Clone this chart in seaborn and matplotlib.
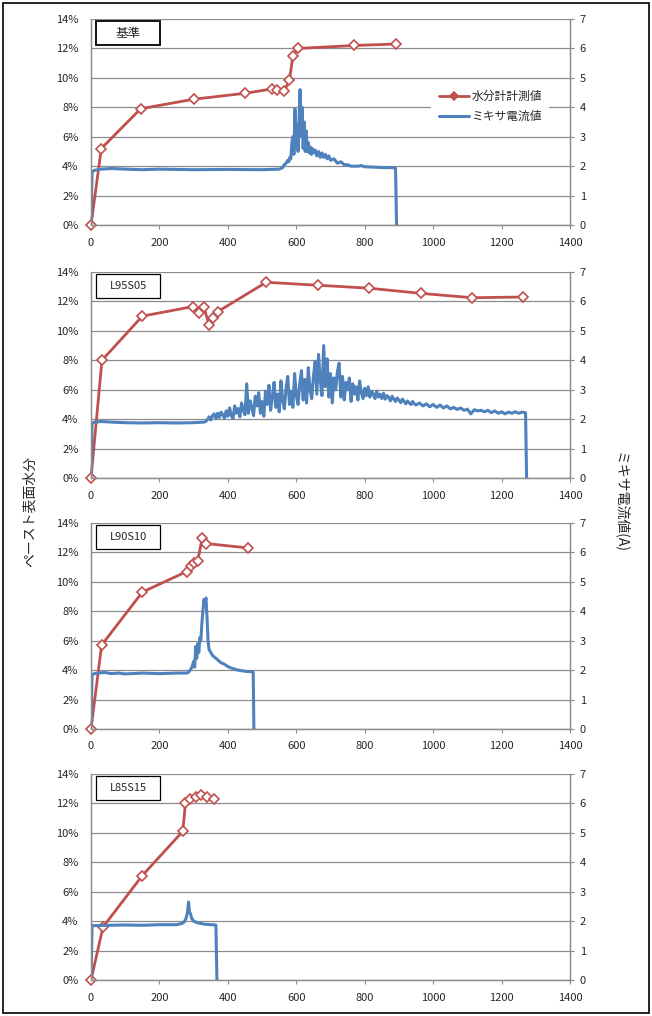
import numpy as np
import pandas as pd
import matplotlib
matplotlib.use("Agg")
import matplotlib.pyplot as plt
import seaborn as sns
from matplotlib.patches import Rectangle
from matplotlib.ticker import FuncFormatter

sns.set_style("white")
plt.rcParams['font.family'] = ['Noto Sans CJK JP', 'DejaVu Sans']

# %%
# panel names
panels = ['基準', 'L95S05', 'L90S10', 'L85S15']

# moisture meter readings (time [s], %)
moist_t_base = [0, 30, 145, 300, 450, 530, 545, 565, 580, 590, 605, 770, 890]
moist_v_base = [0, 5.2, 7.9, 8.55, 8.95, 9.25, 9.2, 9.1, 9.85, 11.5, 12.0, 12.2, 12.3]

moist_t_l95 = [0, 32, 150, 298, 315, 330, 345, 357, 370, 512, 662, 812, 963, 1114, 1262]
moist_v_l95 = [0, 8.0, 11.0, 11.65, 11.2, 11.6, 10.4, 10.9, 11.3, 13.3, 13.1, 12.9, 12.55, 12.25, 12.3]

moist_t_l90 = [0, 31, 150, 280, 292, 300, 312, 325, 336, 460]
moist_v_l90 = [0, 5.7, 9.3, 10.7, 11.1, 11.3, 11.4, 13.0, 12.6, 12.3]

moist_t_l85 = [0, 35, 150, 268, 276, 290, 306, 322, 340, 360]
moist_v_l85 = [0, 3.6, 7.1, 10.1, 12.0, 12.3, 12.45, 12.55, 12.45, 12.3]

# mixer current (time [s], A)
cur_t_base = [0, 3, 10, 30, 60, 100, 150, 200, 300, 400, 500, 550, 560,
              565, 570, 575, 578, 581, 584, 587, 590, 593, 596, 599, 602, 605,
              608, 611, 614, 617, 620, 623, 626, 629, 632, 635, 638, 641, 644,
              647, 650, 655, 660, 665, 670, 675, 680, 685, 690, 695, 700, 710,
              720, 730, 740, 750, 760, 770, 780, 790, 800, 820, 840, 860, 880,
              890, 893]
cur_v_base = [0, 1.8, 1.86, 1.9, 1.92, 1.9, 1.88, 1.9, 1.88, 1.89, 1.88, 1.9, 1.95,
              2.05, 2.1, 2.2, 2.15, 2.3, 2.25, 2.8, 3.0, 2.4, 3.95, 2.6, 3.4, 2.5,
              3.6, 4.6, 3.0, 4.0, 2.6, 3.5, 2.5, 3.2, 2.5, 2.8, 2.45, 2.65, 2.4,
              2.6, 2.45, 2.55, 2.35, 2.5, 2.3, 2.45, 2.3, 2.4, 2.25, 2.35, 2.2, 2.25,
              2.1, 2.15, 2.05, 2.05, 2.0, 2.0, 2.0, 2.02, 1.98, 1.97, 1.96, 1.95, 1.95,
              1.93, 0]

cur_t_l95_flat = [0, 3, 10, 30, 60, 100, 150, 200, 250, 300, 330]
cur_v_l95_flat = [0, 1.85, 1.9, 1.92, 1.9, 1.88, 1.87, 1.88, 1.87, 1.88, 1.9]
cur_v_l95_noisy = [  # every 5 s from 335 to 950
    1.92, 1.98, 2.08, 1.97, 2.12, 2.18, 2.02, 2.2, 2.06, 2.24, 2.15, 2.03, 2.28, 2.1,
    2.38, 2.12, 2.02, 2.45, 2.2, 2.36, 2.08, 2.55, 2.3, 2.15, 3.2, 2.2, 2.62, 2.4,
    2.12, 2.78, 2.45, 2.9, 2.2, 2.6,
    2.1, 2.95, 2.5, 3.15, 2.3, 2.75, 3.25, 2.4, 2.85, 2.25,
    3.3, 2.65, 2.35, 3.05, 3.45, 2.5, 2.95, 2.4, 3.55, 2.8, 2.5, 3.2, 3.65, 2.65,
    3.35, 2.55, 3.75, 3.0, 2.7, 3.45,
    3.95, 2.85, 4.2, 3.3, 2.8, 4.5, 3.1, 4.05, 2.75, 3.55,
    2.55, 3.4, 3.0, 3.6, 3.9, 2.75, 3.45, 2.65, 3.25, 3.0, 3.4, 2.6,
    3.2, 2.85, 3.1, 2.65, 3.3, 2.9, 2.7, 3.05, 2.8, 3.1, 2.75, 2.95, 2.85, 2.7,
    2.95, 2.75, 2.85, 2.7,
    2.88, 2.68, 2.8, 2.74, 2.62, 2.78, 2.68, 2.6, 2.72, 2.64, 2.56, 2.68, 2.6,
    2.52, 2.62, 2.55, 2.5, 2.6, 2.52, 2.48]
cur_v_l95_tail = [  # every 10 s from 960 to 1270
    2.55, 2.45, 2.52, 2.42, 2.5, 2.4, 2.48, 2.38, 2.45, 2.35, 2.4, 2.33, 2.38,
    2.3, 2.34, 2.18, 2.32, 2.28, 2.3, 2.25, 2.3, 2.22, 2.28, 2.2, 2.25, 2.18,
    2.24, 2.2, 2.25, 2.2, 2.24, 2.22]
cur_t_l95 = (cur_t_l95_flat + list(range(335, 951, 5))
             + list(range(960, 1271, 10)) + [1273])
cur_v_l95 = cur_v_l95_flat + cur_v_l95_noisy + cur_v_l95_tail + [0]

cur_t_l90 = [0, 3, 10, 20, 40, 60, 80, 100, 150, 200, 250, 280, 285, 290, 295,
             300, 303, 306, 309, 312, 315, 318, 321, 324, 327, 330, 333, 336, 339,
             342, 345, 350, 355, 360, 370, 380, 390, 400, 410, 420, 430, 440, 450,
             460, 470, 474, 476]
cur_v_l90 = [0, 1.85, 1.88, 1.9, 1.92, 1.88, 1.9, 1.87, 1.9, 1.88, 1.9, 1.9, 1.93,
             2.0, 2.1, 2.3, 2.1, 2.8, 2.4, 2.9, 2.6, 3.1, 3.0, 3.6, 4.0, 4.4, 4.3,
             4.45, 3.8, 3.0, 2.7, 2.6, 2.5, 2.45, 2.35, 2.25, 2.2, 2.12, 2.07, 2.03,
             2.0, 1.98, 1.96, 1.95, 1.95, 1.93, 0]

cur_t_l85 = [0, 3, 20, 50, 100, 150, 200, 250, 265, 272, 278, 282, 285, 288, 291,
             294, 300, 310, 330, 350, 365, 368]
cur_v_l85 = [0, 1.85, 1.85, 1.86, 1.87, 1.86, 1.88, 1.88, 1.92, 1.97, 2.1, 2.3,
             2.65, 2.3, 2.25, 2.1, 2.0, 1.95, 1.9, 1.88, 1.87, 0]

moist_t = [moist_t_base, moist_t_l95, moist_t_l90, moist_t_l85]
moist_v = [moist_v_base, moist_v_l95, moist_v_l90, moist_v_l85]
cur_t = [cur_t_base, cur_t_l95, cur_t_l90, cur_t_l85]
cur_v = [cur_v_base, cur_v_l95, cur_v_l90, cur_v_l85]

red = '#C0504D'
blue = '#4F81BD'
grid_c = '#8C8C8C'

# %%
fig = plt.figure(figsize=(6.52, 10.16), dpi=100)
bottoms = [0.7785, 0.5295, 0.2825, 0.0354]

for i in range(4):
    ax = fig.add_axes([0.1396, bottoms[i], 0.7347, 0.2028])
    ax2 = ax.twinx()

    df_m = pd.DataFrame({'t': moist_t[i], 'v': moist_v[i]})
    df_c = pd.DataFrame({'t': cur_t[i], 'v': cur_v[i]})

    sns.lineplot(data=df_m, x='t', y='v', ax=ax, color=red, lw=2.0,
                 marker='D', markersize=5.5, markerfacecolor='white',
                 markeredgecolor=red, markeredgewidth=1.2, sort=False,
                 clip_on=False, label='水分計計測値', legend=False)
    sns.lineplot(data=df_c, x='t', y='v', ax=ax2, color=blue, lw=2.2,
                 sort=False, label='ミキサ電流値', legend=False)

    ax.set_xlim(0, 1400)
    ax.set_ylim(0, 14)
    ax2.set_ylim(0, 7)
    ax.set_xticks(range(0, 1401, 200))
    ax.set_yticks(range(0, 15, 2))
    ax2.set_yticks(range(0, 8))
    ax.yaxis.set_major_formatter(FuncFormatter(lambda v, p: f'{v:.0f}%'))
    ax.set_xlabel('')
    ax.set_ylabel('')
    ax2.set_ylabel('')

    ax.grid(axis='y', color=grid_c, lw=0.9)
    ax.grid(axis='x', visible=False)
    for a in (ax, ax2):
        a.spines['top'].set_visible(False)
        for s in ('left', 'right', 'bottom'):
            a.spines[s].set_color(grid_c)
            a.spines[s].set_linewidth(0.9)
    ax.tick_params(axis='x', direction='out', length=3, color=grid_c,
                   labelsize=8, pad=6, bottom=True)
    ax.tick_params(axis='y', length=0, labelsize=8, pad=9)
    ax2.tick_params(axis='y', direction='out', length=3, color=grid_c,
                    labelsize=8, pad=4, right=True)

    # sample label box
    ax.add_patch(Rectangle((0.01, 0.872), 0.135, 0.118, transform=ax.transAxes,
                           fc='white', ec='black', lw=1.3 if i == 0 else 0.9,
                           zorder=5, clip_on=False))
    ax.text(0.078, 0.931, panels[i], transform=ax.transAxes, ha='center',
            va='center', fontsize=8 if i else 9, zorder=6)

    if i == 0:
        h1, l1 = ax.get_legend_handles_labels()
        h2, l2 = ax2.get_legend_handles_labels()
        leg = ax2.legend(h1 + h2, l1 + l2, loc='center',
                         bbox_to_anchor=(0.752, 0.895),
                         bbox_transform=fig.transFigure, fontsize=8.5,
                         frameon=True, fancybox=False, edgecolor='none',
                         facecolor='white', framealpha=1, handlelength=2.6,
                         borderpad=0.6, labelspacing=0.6, handletextpad=0.2)
        leg.legend_handles[0].set_markerfacecolor(red)
        leg.legend_handles[0].set_markersize(4)

fig.text(0.045, 0.497, 'ペースト表面水分', rotation=90, ha='center', va='center',
         fontsize=10)
fig.text(0.953, 0.505, 'ミキサ電流値(A)', rotation=-90, ha='center', va='center',
         fontsize=10)

fig.patches.append(Rectangle((0.005, 0.003), 0.99, 0.994, transform=fig.transFigure,
                             fill=False, ec='black', lw=1.2))

fig.savefig('out.png', dpi=100)
